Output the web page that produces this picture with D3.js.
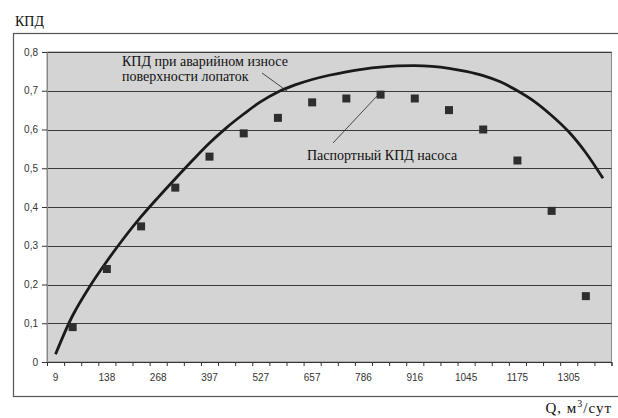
<!DOCTYPE html>
<html><head><meta charset="utf-8">
<script src="https://cdn.jsdelivr.net/npm/d3@7"></script>
<style>
html,body{margin:0;padding:0;background:#fff;}
svg{display:block;}
</style></head>
<body>
<svg id="c" width="618" height="418"></svg>
<script>
// Categories (Q, m3/day)
const categories = [9, 52, 95, 138, 181, 225, 268, 311, 354, 397, 441, 484, 527, 570, 613, 657, 700, 743, 786, 829, 873, 916, 959, 1002, 1045, 1088, 1132, 1175, 1218, 1261, 1305, 1348, 1391];
// Curve: efficiency with emergency blade wear
const wornEff = [0.02, 0.12, 0.195, 0.26, 0.32, 0.375, 0.425, 0.473, 0.52, 0.565, 0.605, 0.64, 0.672, 0.697, 0.715, 0.729, 0.74, 0.749, 0.756, 0.761, 0.764, 0.765, 0.763, 0.758, 0.75, 0.739, 0.723, 0.70, 0.672, 0.636, 0.594, 0.54, 0.474];
// Markers: nameplate efficiency (at odd categories)
const passportQ = [52, 138, 225, 311, 397, 484, 570, 657, 743, 829, 916, 1002, 1088, 1175, 1261, 1348];
const passportEff = [0.09, 0.24, 0.35, 0.45, 0.53, 0.59, 0.63, 0.67, 0.68, 0.69, 0.68, 0.65, 0.60, 0.52, 0.39, 0.17];
const yTicks = [0, 0.1, 0.2, 0.3, 0.4, 0.5, 0.6, 0.7, 0.8];
const xLabelQ = [9, 138, 268, 397, 527, 657, 786, 916, 1045, 1175, 1305];

const svg = d3.select("#c");
const L = 47, R = 611.5, T = 52, B = 362;
const x = d3.scaleBand().domain(categories).range([L, R]).padding(0);
const xi = d3.scaleLinear().domain([0, categories.length]).range([L, R]);
const y = d3.scaleLinear().domain([0, 0.8]).range([B, T]);

// outer frame
svg.append("rect").attr("x", 13.5).attr("y", 33.5).attr("width", 620).attr("height", 363)
  .attr("fill", "#fff").attr("stroke", "#555").attr("stroke-width", 1.2);

// plot area
svg.append("rect").attr("x", L).attr("y", T).attr("width", R - L).attr("height", B - T)
  .attr("fill", "#d4d4d4").attr("stroke", "#8a8a8a").attr("stroke-width", 1);

// gridlines
svg.append("g").selectAll("line").data(yTicks.filter(d => d > 0)).join("line")
  .attr("x1", L).attr("x2", R).attr("y1", d => Math.round(y(d)) + 0.5).attr("y2", d => Math.round(y(d)) + 0.5)
  .attr("stroke", "#3a3a3a").attr("stroke-width", 1);

// y axis
const fmt = d => d === 0 ? "0" : d3.format(".1f")(d).replace(".", ",");
const ya = svg.append("g").attr("transform", `translate(${L},0)`)
  .call(d3.axisLeft(y).tickValues(yTicks).tickFormat(fmt).tickSize(5).tickPadding(4));
ya.select(".domain").attr("stroke", "#8a8a8a");
ya.selectAll(".tick line").attr("stroke", "#333");
ya.selectAll("text").attr("font-family", "Liberation Sans, Arial, sans-serif").attr("font-size", 10).attr("fill", "#333");

// x axis tick marks at band edges
const xt = svg.append("g").attr("transform", `translate(0,${B})`)
  .call(d3.axisBottom(xi).tickValues(d3.range(0, categories.length + 1)).tickFormat("").tickSize(4));
xt.select(".domain").attr("stroke", "#333");
xt.selectAll(".tick line").attr("stroke", "#333");

// x labels
const xl = svg.append("g").attr("transform", `translate(0,${B})`)
  .call(d3.axisBottom(x).tickValues(xLabelQ).tickSize(0).tickPadding(12));
xl.select(".domain").remove();
xl.selectAll("text").attr("font-family", "Liberation Sans, Arial, sans-serif").attr("font-size", 10).attr("fill", "#333");

// curve
const line = d3.line().x((d, i) => x(categories[i]) + x.bandwidth() / 2).y(d => y(d)).curve(d3.curveCatmullRom.alpha(0.5));
svg.append("path").datum(wornEff).attr("d", line).attr("fill", "none")
  .attr("stroke", "#1a1a1a").attr("stroke-width", 2.8).attr("stroke-linejoin", "round");

// markers
const ms = 8;
svg.append("g").selectAll("rect").data(passportQ).join("rect")
  .attr("x", d => x(d) + x.bandwidth() / 2 - ms / 2)
  .attr("y", (d, i) => y(passportEff[i]) - ms / 2)
  .attr("width", ms).attr("height", ms).attr("fill", "#2e2e2e");

// annotations
const serif = "Liberation Serif, Times New Roman, serif";
svg.append("line").attr("x1", 262).attr("y1", 73).attr("x2", 287).attr("y2", 91).attr("stroke", "#222").attr("stroke-width", 0.8);
svg.append("line").attr("x1", 333).attr("y1", 143).attr("x2", 377).attr("y2", 96).attr("stroke", "#222").attr("stroke-width", 0.8);
const t1 = svg.append("text").attr("font-family", serif).attr("font-size", 14).attr("fill", "#111");
t1.append("tspan").attr("x", 122).attr("y", 66).text("КПД при аварийном износе");
t1.append("tspan").attr("x", 122).attr("y", 81).text("поверхности лопаток");
svg.append("text").attr("x", 307).attr("y", 160).attr("font-family", serif).attr("font-size", 14).attr("fill", "#111")
  .text("Паспортный КПД насоса");

// axis titles
svg.append("text").attr("x", 15).attr("y", 26).attr("font-family", serif).attr("font-size", 14).attr("fill", "#111").text("КПД");
const qt = svg.append("text").attr("x", 612).attr("y", 413).attr("text-anchor", "end").attr("font-family", serif).attr("font-size", 15).attr("fill", "#111").attr("letter-spacing", 1);
qt.append("tspan").text("Q, м");
qt.append("tspan").attr("font-size", 10).attr("dy", -6).text("3");
qt.append("tspan").attr("dy", 6).text("/сут");
</script>
</body></html>
